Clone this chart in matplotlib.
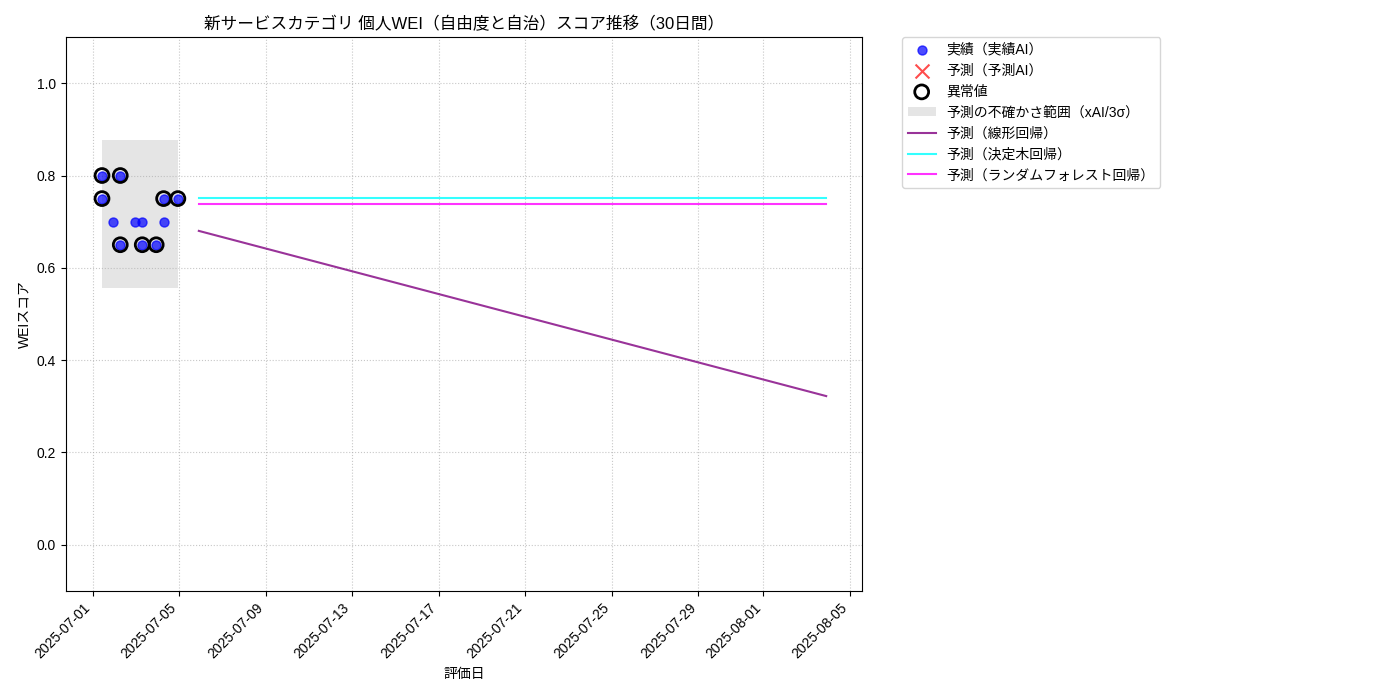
import matplotlib
matplotlib.use("Agg")
import matplotlib.pyplot as plt
import matplotlib.dates as mdates
import pandas as pd

plt.rcParams['font.family'] = ['Liberation Sans', 'Noto Sans CJK JP', 'DejaVu Sans']

# Observed data (実績)
obs_dates = pd.to_datetime([
    "2025-07-01 10:18", "2025-07-01 10:18", "2025-07-01 22:29",
    "2025-07-02 06:34", "2025-07-02 06:34", "2025-07-02 22:51",
    "2025-07-03 06:56", "2025-07-03 06:56", "2025-07-03 22:26",
    "2025-07-04 06:38", "2025-07-04 06:38", "2025-07-04 22:28",
])
obs_values = [0.80, 0.75, 0.70,
              0.80, 0.65, 0.70,
              0.70, 0.65, 0.65,
              0.75, 0.70, 0.75]
outlier_flags = [True, True, False,
                 True, True, False,
                 False, True, True,
                 True, False, True]

# Uncertainty band
band_lower = 0.556
band_upper = 0.878

# Forecast lines (start / end of 30-day horizon)
fc_dates = pd.to_datetime(["2025-07-05 21:43", "2025-08-03 21:43"])
fc_linear = [0.680, 0.322]
fc_tree = [0.752, 0.752]
fc_forest = [0.738, 0.738]

title = "新サービスカテゴリ 個人WEI（自由度と自治）スコア推移（30日間）"

fig = plt.figure(figsize=(14, 7), dpi=100)
ax = fig.add_axes([0.047, 0.156, 0.569, 0.791])

ax.scatter(obs_dates, obs_values, color='blue', alpha=0.7, s=42, label='実績（実績AI）', zorder=3)
ax.scatter([], [], marker='x', color='red', alpha=0.7, s=100, label='予測（予測AI）')
out_d = [d for d, f in zip(obs_dates, outlier_flags) if f]
out_v = [v for v, f in zip(obs_values, outlier_flags) if f]
ax.scatter(out_d, out_v, facecolors='none', edgecolors='black', s=100, linewidths=2,
           label='異常値', zorder=4)
ax.fill_between([obs_dates[0], obs_dates[-1]], band_lower, band_upper,
                color='gray', alpha=0.2, label='予測の不確かさ範囲（xAI/3σ）', linewidth=0)
ax.plot(fc_dates, fc_linear, color='purple', alpha=0.8, label='予測（線形回帰）')
ax.plot(fc_dates, fc_tree, color='cyan', alpha=0.8, label='予測（決定木回帰）')
ax.plot(fc_dates, fc_forest, color='magenta', alpha=0.8, label='予測（ランダムフォレスト回帰）')

ax.set_ylim(-0.1, 1.1)
ax.set_title(title, fontsize=12)
ax.set_xlabel('評価日')
ax.set_ylabel('WEIスコア')
ax.grid(True, linestyle=':', alpha=0.7)
ax.xaxis.set_major_locator(mdates.AutoDateLocator())
ax.xaxis.set_major_formatter(mdates.DateFormatter('%Y-%m-%d'))
plt.setp(ax.get_xticklabels(), rotation=45, ha='right')
ax.legend(bbox_to_anchor=(1.05, 1), loc='upper left', borderaxespad=0.)

fig.savefig('out.png', dpi=100)
